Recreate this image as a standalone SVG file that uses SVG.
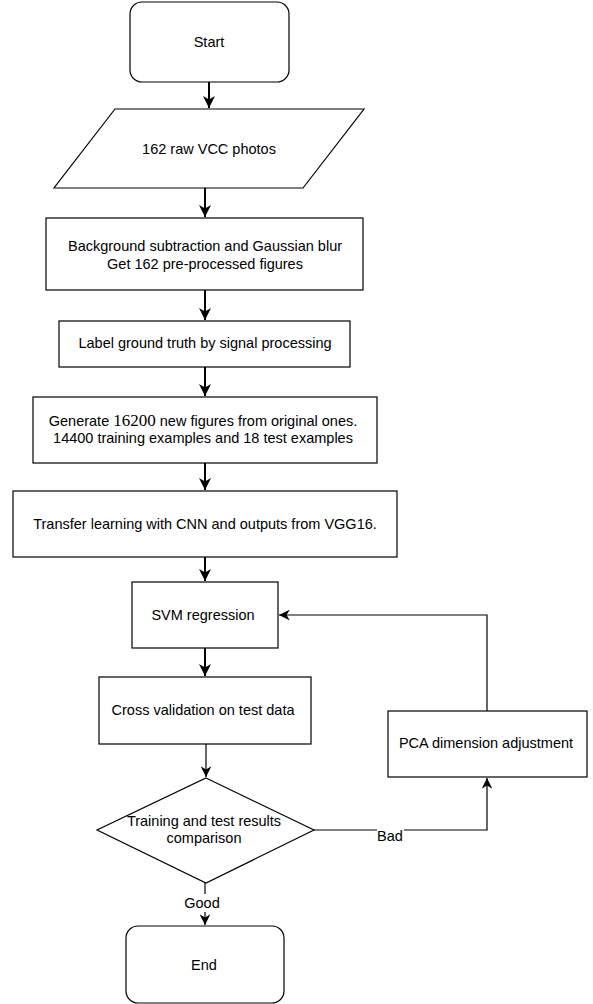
<svg xmlns="http://www.w3.org/2000/svg" width="593" height="1004" viewBox="0 0 593 1004">
<style>
.n{fill:#fff;stroke:#000;stroke-width:1.2}
.t{font-family:"Liberation Sans",Arial,Helvetica,sans-serif;font-size:14.5px;fill:#000;text-anchor:middle}
.s{font-family:"Liberation Serif","Times New Roman",serif;font-size:17px}
.c{fill:none;stroke:#000}
.thick{stroke-width:2}
.thin{stroke-width:1.2}
</style>
<defs>
<marker id="ab" viewBox="0 0 10 10" refX="10" refY="5" markerWidth="6" markerHeight="6" markerUnits="strokeWidth" orient="auto">
<path d="M0,0 L10,5 L0,10 L3,5 Z" fill="#000"/>
</marker>
<marker id="as" viewBox="0 0 10 10" refX="10" refY="5" markerWidth="9" markerHeight="9" markerUnits="strokeWidth" orient="auto">
<path d="M0,0 L10,5 L0,10 L3,5 Z" fill="#000"/>
</marker>
</defs>
<rect width="593" height="1004" fill="#fff"/>
<g id="connectors">
<path class="c thick" d="M209,82 V108" marker-end="url(#ab)"/>
<path class="c thick" d="M205,188 V217" marker-end="url(#ab)"/>
<path class="c thick" d="M205,290 V320" marker-end="url(#ab)"/>
<path class="c thick" d="M205,367 V396" marker-end="url(#ab)"/>
<path class="c thick" d="M205,463 V490" marker-end="url(#ab)"/>
<path class="c thick" d="M205,557 V581" marker-end="url(#ab)"/>
<path class="c thick" d="M205,648 V676" marker-end="url(#ab)"/>
<path class="c thin" d="M206,744 V777" marker-end="url(#as)"/>
<path class="c thin" d="M205,883 V925" marker-end="url(#as)"/>
<path class="c thin" d="M314,830 H487 V778" marker-end="url(#as)"/>
<path class="c thin" d="M487,711 V615 H279" marker-end="url(#as)"/>
<rect x="187" y="894" width="34" height="18" fill="#fff"/>
<text class="t" x="202" y="908">Good</text>
<rect x="377" y="829" width="27" height="16" fill="#fff"/>
<text class="t" x="390" y="841">Bad</text>
</g>
<g id="start">
<rect class="n" x="130" y="2" width="159" height="80" rx="12"/>
<text class="t" x="209" y="47">Start</text>
</g>
<g id="photos">
<path class="n" d="M115,109 H364 L303,188 H54 Z"/>
<text class="t" x="209" y="154">162 raw VCC photos</text>
</g>
<g id="preprocess">
<rect class="n" x="46" y="218" width="317" height="72"/>
<text class="t" x="205" y="251">Background subtraction and Gaussian blur</text>
<text class="t" x="205" y="268.5">Get 162 pre-processed figures</text>
</g>
<g id="label">
<rect class="n" x="59" y="321" width="291" height="46"/>
<text class="t" x="205" y="348">Label ground truth by signal processing</text>
</g>
<g id="generate">
<rect class="n" x="33" y="397" width="344" height="66"/>
<text class="t" x="203" y="426">Generate <tspan class="s">16200</tspan> new figures from original ones.</text>
<text class="t" x="203" y="443">14400 training examples and 18 test examples</text>
</g>
<g id="transfer">
<rect class="n" x="13" y="491" width="384" height="66"/>
<text class="t" x="205" y="529">Transfer learning with CNN and outputs from VGG16.</text>
</g>
<g id="svm">
<rect class="n" x="132" y="582" width="146" height="66"/>
<text class="t" x="203" y="620">SVM regression</text>
</g>
<g id="cross">
<rect class="n" x="99" y="677" width="212" height="67"/>
<text class="t" x="203" y="715">Cross validation on test data</text>
</g>
<g id="decision">
<path class="n" d="M206,778 L314,830 L206,883 L97,830 Z"/>
<text class="t" x="204" y="826">Training and test results</text>
<text class="t" x="204" y="843">comparison</text>
</g>
<g id="pca">
<rect class="n" x="388" y="711" width="199" height="66"/>
<text class="t" x="486" y="748">PCA dimension adjustment</text>
</g>
<g id="end">
<rect class="n" x="126" y="926" width="158" height="77" rx="12"/>
<text class="t" x="204" y="970">End</text>
</g>
</svg>
